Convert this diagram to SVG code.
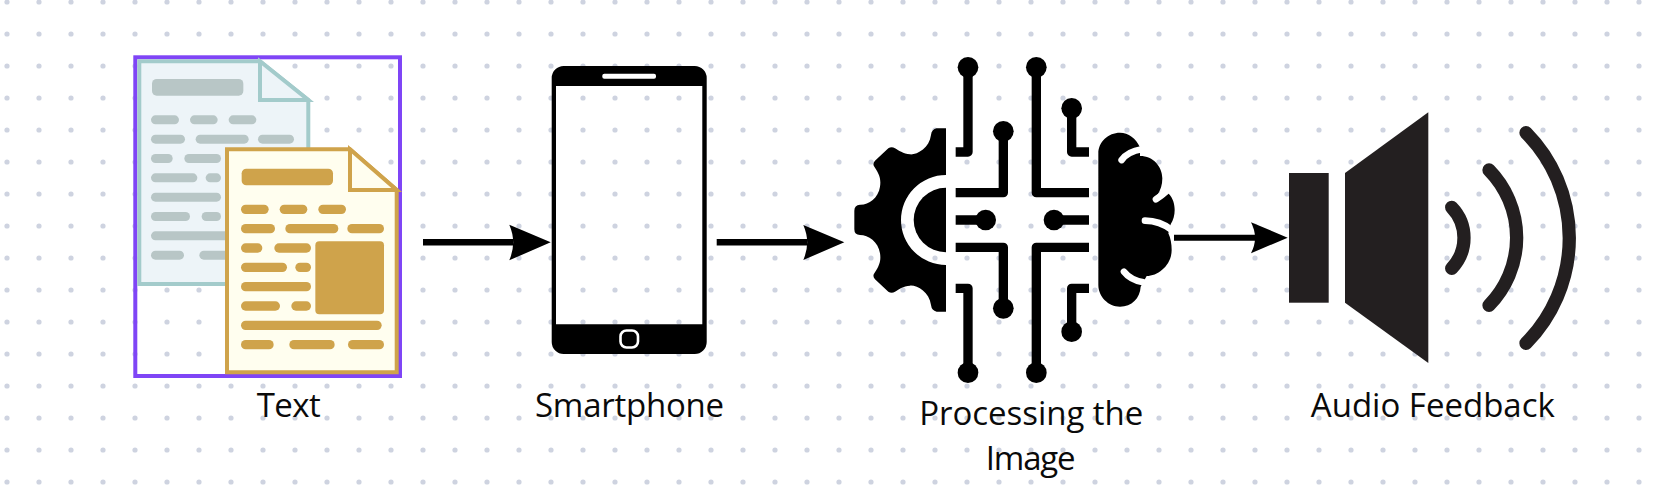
<svg xmlns="http://www.w3.org/2000/svg" width="1656" height="500" viewBox="0 0 1656 500">
<style>
.lbl{font-family:"Open Sans","Noto Sans",sans-serif;font-size:33px;fill:#0a0a0a}
.b{fill:#b8c6c6}.g{fill:#cfa34b}
.w{fill:none;stroke:#000;stroke-width:28;stroke-linejoin:round}
.gr{fill:none;stroke:#fff;stroke-width:20;stroke-linecap:round}
.arc{fill:none;stroke:#231f20;stroke-width:13.3;stroke-linecap:round}
</style>
<defs>
<pattern id="dots" x="-9" y="-14" width="32" height="32" patternUnits="userSpaceOnUse"><circle cx="16" cy="16" r="2.6" fill="#ced3e0"/></pattern>
</defs>
<rect width="1656" height="500" fill="#fff"/>
<rect width="1656" height="500" fill="url(#dots)"/>
<g id="node-text">
<rect x="135.3" y="57.3" width="264.7" height="318.7" fill="none" stroke="#7f45f6" stroke-width="4"/>
<path d="M139.3 61.3H260L308.3 100V284H139.3Z" fill="#edf4f8" stroke="#a3cbcb" stroke-width="4"/>
<path d="M260 61.3V100H308.3Z" fill="#edf4f8" stroke="#a3cbcb" stroke-width="4"/>
<g transform="translate(120 40) scale(.33333)" class="b">
<rect x="96" y="117" width="274" height="50" rx="14"/>
<rect x="93" y="226" width="84" height="27" rx="13.5"/><rect x="210" y="226" width="83" height="27" rx="13.5"/><rect x="326" y="226" width="83" height="27" rx="13.5"/>
<rect x="93" y="284" width="102" height="27" rx="13.5"/><rect x="227" y="284" width="159" height="27" rx="13.5"/><rect x="414" y="284" width="108" height="27" rx="13.5"/>
<rect x="93" y="342" width="65" height="27" rx="13.5"/><rect x="193" y="342" width="110" height="27" rx="13.5"/>
<rect x="93" y="400" width="139" height="27" rx="13.5"/><rect x="257" y="400" width="46" height="27" rx="13.5"/>
<rect x="93" y="458" width="210" height="27" rx="13.5"/>
<rect x="93" y="516" width="117" height="27" rx="13.5"/><rect x="245" y="516" width="58" height="27" rx="13.5"/>
<rect x="93" y="574" width="240" height="27" rx="13.5"/>
<rect x="93" y="632" width="99" height="27" rx="13.5"/><rect x="238" y="632" width="100" height="27" rx="13.5"/>
</g>
<path d="M227 149.3H350L396.7 190V372.3H227Z" fill="#fffeef" stroke="#cfa34b" stroke-width="4"/>
<path d="M350 149.3V190H396.7Z" fill="#fffeef" stroke="#cfa34b" stroke-width="4"/>
<g transform="translate(120 40) scale(.33333)" class="g">
<rect x="365" y="386" width="274" height="50" rx="14"/>
<rect x="363" y="494" width="83" height="28" rx="14"/><rect x="479" y="494" width="83" height="28" rx="14"/><rect x="595" y="494" width="83" height="28" rx="14"/>
<rect x="363" y="552" width="102" height="28" rx="14"/><rect x="496" y="552" width="159" height="28" rx="14"/><rect x="682" y="552" width="110" height="28" rx="14"/>
<rect x="363" y="610" width="64" height="28" rx="14"/><rect x="463" y="610" width="110" height="28" rx="14"/>
<rect x="363" y="668" width="138" height="28" rx="14"/><rect x="526" y="668" width="47" height="28" rx="14"/>
<rect x="363" y="726" width="210" height="28" rx="14"/>
<rect x="363" y="784" width="117" height="28" rx="14"/><rect x="514" y="784" width="59" height="28" rx="14"/>
<rect x="363" y="842" width="422" height="28" rx="14"/>
<rect x="363" y="900" width="98" height="28" rx="14"/><rect x="508" y="900" width="136" height="28" rx="14"/><rect x="684" y="900" width="108" height="28" rx="14"/>
<rect x="586" y="604" width="206" height="219" rx="12"/>
</g>
<text class="lbl" x="256.7" y="416.7" textLength="64">Text</text>
</g>
<g id="node-smartphone">
<path fill-rule="evenodd" d="M563.7 66H694.7A12 12 0 0 1 706.7 78V342A12 12 0 0 1 694.7 354H563.7A12 12 0 0 1 551.7 342V78A12 12 0 0 1 563.7 66ZM556 86V324.3H702.3V86Z"/>
<rect x="602.3" y="73.7" width="53.7" height="5" rx="2" fill="#fff"/>
<rect x="620.5" y="330.5" width="17.5" height="17" rx="6" fill="none" stroke="#fff" stroke-width="2.6"/>
<text class="lbl" x="535" y="416.7" textLength="189">Smartphone</text>
</g>
<g id="node-processing">
<g transform="translate(800 40) scale(.33333)">
<path d="M438 265H410Q395 268 393 285C388 325 350 345 330 343C310 343 295 330 285 325Q275 318 265 325L225 362Q216 372 224 382C240 405 243 420 240 440C235 475 205 495 180 494Q163 496 163 512V568Q163 585 180 585C205 585 235 605 240 640C243 660 240 675 224 698Q216 708 225 718L265 755Q275 762 285 755C295 750 310 737 330 737C350 735 388 755 393 795Q395 812 410 815H438V675A135 135 0 0 1 438 405Z"/>
<path d="M438 443A97 97 0 0 0 438 637Z"/>
<path class="w" d="M504 82V336H467M610 274V458H467M467 540H557M467 622H610V805M467 745H504V998M709 82V458H867M815 205V336H867M867 540H762M867 622H709V998M867 745H815V875"/>
<circle cx="504" cy="82" r="31"/><circle cx="610" cy="274" r="31"/><circle cx="557" cy="540" r="31"/><circle cx="610" cy="805" r="31"/><circle cx="504" cy="998" r="31"/>
<circle cx="709" cy="82" r="31"/><circle cx="815" cy="205" r="31"/><circle cx="762" cy="540" r="31"/><circle cx="815" cy="875" r="31"/><circle cx="709" cy="998" r="31"/>
</g>
<g transform="translate(1100 90) scale(.33333)">
<path d="M-5 190C-5 155 25 128 60 128C85 128 108 145 120 172L120 198C160 198 187 230 187 265C187 285 182 300 172 315L205 310C220 325 224 345 224 360C224 375 220 390 212 403L205 430C212 445 215 462 215 480C215 525 175 558 140 558L122 590C120 625 95 650 60 650C25 650 -5 620 -5 585Z"/>
<path class="gr" d="M65 210C80 190 100 182 125 178M168 328C180 320 190 312 200 303M135 392C165 392 190 400 215 420M72 545C85 562 105 572 130 577"/>
</g>
<text class="lbl" x="919.3" y="425.3" textLength="224">Processing the</text>
<text class="lbl" x="985.8" y="470" textLength="89.7">Image</text>
</g>
<g id="node-audio">
<rect x="1289" y="173" width="39.7" height="129.7" fill="#231f20"/>
<path d="M1345 173L1428.3 112.3V363L1345 302.7Z" fill="#231f20"/>
<path class="arc" d="M1451.7 207.3A44 44 0 0 1 1451.7 268.3"/>
<path class="arc" d="M1489 170A96.6 96.6 0 0 1 1489 305.3"/>
<path class="arc" d="M1526 132.7A149.7 149.7 0 0 1 1526 343.3"/>
<text class="lbl" x="1310.8" y="416.7" textLength="244">Audio Feedback</text>
</g>
<g id="connectors">
<path d="M423 239H513V245.6H423Z"/><path d="M550.7 242.3L509.3 224.7Q517 242.3 509.3 260.3Z"/>
<path d="M716.7 239H807V245.6H716.7Z"/><path d="M844.3 242.3L803.3 225Q811 242.3 803.3 260Z"/>
<path d="M1174 234.7H1257V240.7H1174Z"/><path d="M1287.7 237.7L1251 222.3Q1259 237.7 1251 253.3Z"/>
</g>
</svg>
